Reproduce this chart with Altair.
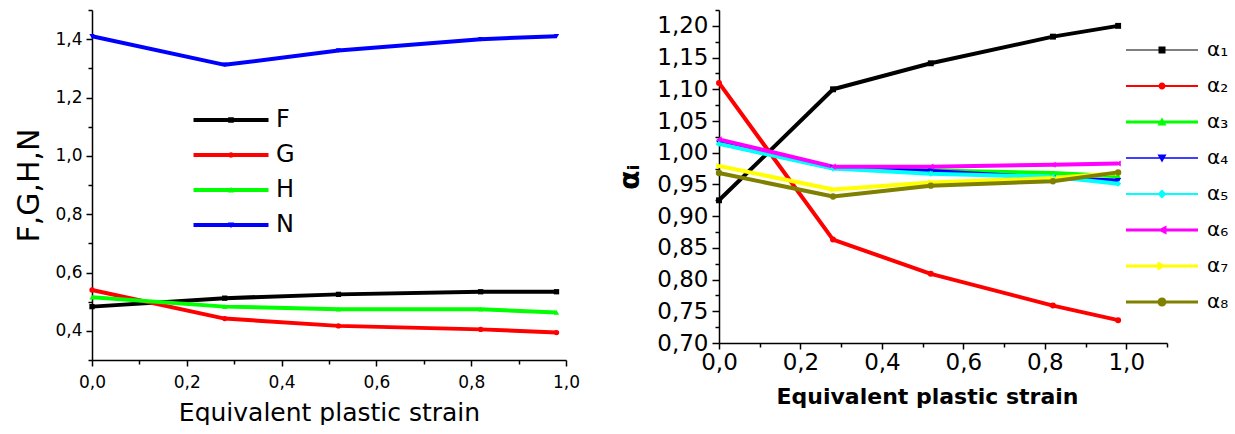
import altair as alt
import pandas as pd

# ---------------- data ----------------
strain = [0.0, 0.28, 0.52, 0.82, 0.98]

F = [0.483, 0.512, 0.525, 0.534, 0.534]
G = [0.540, 0.442, 0.417, 0.405, 0.394]
H = [0.515, 0.483, 0.474, 0.474, 0.463]
N = [1.410, 1.312, 1.361, 1.400, 1.410]
left_names = ["F", "G", "H", "N"]

a1 = [0.925, 1.100, 1.141, 1.183, 1.200]
a2 = [1.110, 0.863, 0.809, 0.759, 0.736]
a3 = [1.016, 0.977, 0.972, 0.968, 0.963]
a4 = [1.015, 0.976, 0.971, 0.960, 0.956]
a5 = [1.014, 0.975, 0.967, 0.962, 0.951]
a6 = [1.021, 0.978, 0.978, 0.981, 0.983]
a7 = [0.979, 0.942, 0.953, 0.960, 0.968]
a8 = [0.968, 0.931, 0.948, 0.955, 0.969]
right_names = ["α₁", "α₂", "α₃", "α₄", "α₅", "α₆", "α₇", "α₈"]

x_ticks_left = [0.0, 0.1, 0.2, 0.3, 0.4, 0.5, 0.6, 0.7, 0.8, 0.9, 1.0]
y_ticks_left = [0.3, 0.4, 0.5, 0.6, 0.7, 0.8, 0.9, 1.0, 1.1, 1.2, 1.3, 1.4, 1.5]
x_ticks_right = [0.0, 0.1, 0.2, 0.3, 0.4, 0.5, 0.6, 0.7, 0.8, 0.9, 1.0, 1.1]
y_ticks_right = [0.7, 0.725, 0.75, 0.775, 0.8, 0.825, 0.85, 0.875, 0.9, 0.925,
                 0.95, 0.975, 1.0, 1.025, 1.05, 1.075, 1.1, 1.125, 1.15, 1.175,
                 1.2, 1.225]


def long_table(names, series):
    rows = []
    for name, vals in zip(names, series):
        for xv, yv in zip(strain, vals):
            rows.append({"strain": xv, "value": yv, "series": name})
    return pd.DataFrame(rows)


df_left = long_table(left_names, [F, G, H, N])
df_right = long_table(right_names, [a1, a2, a3, a4, a5, a6, a7, a8])

# ---------------- styles ----------------
FONT = "DejaVu Sans"
left_colors = ["#000000", "#ff0000", "#00ff00", "#0000ff"]
left_widths = [4, 4, 4, 4]
left_shapes = ["square", "circle", "triangle-up", "triangle-down"]

right_colors = ["#000000", "#ff0000", "#00ff00", "#0000ff",
                "#00ffff", "#ff00ff", "#ffff00", "#808000"]
right_widths = [1.2, 2, 3, 1.5, 2, 3, 3, 3]
right_shapes = ["square", "circle", "triangle-up", "triangle-down",
                "diamond", "triangle-left", "triangle-right", "circle"]
right_sizes = [35, 40, 55, 55, 55, 55, 55, 70]


def f(v):
    return f"{v:.3f}".rstrip("0").rstrip(".")


def bar(L, t):
    return f"M{f(-L)},{f(-t)}H{f(L)}V{f(t)}H{f(-L)}Z"


def marker(kind, h):
    if kind == "square":
        return f"M{f(-h)},{f(-h)}H{f(h)}V{f(h)}H{f(-h)}Z"
    if kind == "circle":
        return f"M{f(-h)},0A{f(h)},{f(h)} 0 1,1 {f(h)},0A{f(h)},{f(h)} 0 1,1 {f(-h)},0Z"
    if kind == "triangle-up":
        return f"M0,{f(-h)}L{f(h)},{f(0.8*h)}L{f(-h)},{f(0.8*h)}Z"
    if kind == "triangle-down":
        return f"M{f(-h)},{f(-0.8*h)}L{f(h)},{f(-0.8*h)}L0,{f(h)}Z"
    if kind == "diamond":
        return f"M0,{f(-h)}L{f(h)},0L0,{f(h)}L{f(-h)},0Z"
    if kind == "triangle-left":
        return f"M{f(-h)},0L{f(h)},{f(-h)}L{f(h)},{f(h)}Z"
    if kind == "triangle-right":
        return f"M{f(h)},0L{f(-h)},{f(h)}L{f(-h)},{f(-h)}Z"
    return ""


U = 5.0  # legend symbol unit (px) for symbolSize=100
left_leg_paths = [bar(37.5 / U, w / 2 / U) + marker(k, h / U)
                  for w, k, h in zip(left_widths, left_shapes, [2.8, 2.8, 3.2, 3.2])]
right_leg_paths = [bar(36 / U, w / 2 / U) + marker(k, h / U)
                   for w, k, h in zip(right_widths, right_shapes,
                                      [3.5, 3.5, 4.5, 4.5, 4.5, 4.5, 4.5, 4.5])]


def major_test(mult):
    return f"abs(datum.value*{mult} - round(datum.value*{mult})) < 0.001"


def label_expr(mult, fmt):
    return (f"{major_test(mult)} ? replace(format(datum.value, '{fmt}'), '.', ',') : ''")


def axis(values, mult, fmt, title, label_size, hidden_size, title_size, title_weight,
         major, minor, **extra):
    return alt.Axis(
        values=values, title=title, grid=False,
        labelExpr=label_expr(mult, fmt), labelOverlap=False, labelFlush=False,
        labelFont=FONT, labelColor="#000000",
        labelFontSize={"condition": {"test": major_test(mult), "value": label_size},
                       "value": hidden_size},
        titleFont=FONT, titleFontSize=title_size, titleFontWeight=title_weight,
        titleColor="#000000",
        tickSize={"condition": {"test": major_test(mult), "value": major}, "value": minor},
        tickColor="#000000", tickWidth=1.5, domainColor="#000000", domainWidth=1.5,
        **extra,
    )


# ---------------- left panel ----------------
lx = alt.X("strain:Q", scale=alt.Scale(domain=[0, 1.0], nice=False, zero=False),
           axis=axis(x_ticks_left, 5, ".1f", "Equivalent plastic strain", 17, 1, 25,
                     "normal", 6, 4, labelPadding=8, titlePadding=10))
ly = alt.Y("value:Q", scale=alt.Scale(domain=[0.3, 1.5], nice=False, zero=False),
           axis=axis(y_ticks_left, 5, ".1f", "F,G,H,N", 17, 20, 30, "normal", 6, 4,
                     labelPadding=4, titlePadding=10))

left_lines = alt.Chart(df_left).mark_line(strokeJoin="round").encode(
    x=lx, y=ly,
    color=alt.Color("series:N", scale=alt.Scale(domain=left_names, range=left_colors),
                    legend=None),
    strokeWidth=alt.StrokeWidth("series:N",
                                scale=alt.Scale(domain=left_names, range=left_widths),
                                legend=None),
)
left_points = alt.Chart(df_left).mark_point(filled=True, opacity=1, size=28).encode(
    x=lx, y=ly,
    color=alt.Color("series:N", scale=alt.Scale(domain=left_names, range=left_colors),
                    legend=None),
    shape=alt.Shape("series:N", scale=alt.Scale(domain=left_names, range=left_shapes),
                    legend=None),
)
left_legend_def = alt.Legend(
    title=None, orient="none", legendX=127, legendY=98, padding=0,
    symbolSize=100, symbolStrokeWidth=0, symbolOpacity=1,
    labelFont=FONT, labelFontSize=24, labelColor="#000000", labelOffset=33,
    rowPadding=11,
)
left_legend = alt.Chart(df_left).transform_filter("false").mark_point(
    filled=True, opacity=1).encode(
    x=lx, y=ly,
    color=alt.Color("series:N", scale=alt.Scale(domain=left_names, range=left_colors),
                    legend=left_legend_def),
    shape=alt.Shape("series:N", scale=alt.Scale(domain=left_names, range=left_leg_paths),
                    legend=left_legend_def),
)
left = alt.layer(left_lines, left_points, left_legend).resolve_scale(
    color="independent", shape="independent").properties(width=474, height=350)

# ---------------- right panel ----------------
rx = alt.X("strain:Q", scale=alt.Scale(domain=[0, 1.1], nice=False, zero=False),
           axis=axis(x_ticks_right, 5, ".1f", "Equivalent plastic strain", 23, 1, 22,
                     "bold", 6, 4, labelPadding=2, titlePadding=12, titleX=208))
ry = alt.Y("value:Q", scale=alt.Scale(domain=[0.7, 1.225], nice=False, zero=False),
           axis=axis(y_ticks_right, 20, ".2f", "αᵢ", 23, 1, 28, "bold", 7, 4,
                     labelPadding=4, titlePadding=12))

right_lines = alt.Chart(df_right).mark_line(strokeJoin="round").encode(
    x=rx, y=ry,
    color=alt.Color("series:N", scale=alt.Scale(domain=right_names, range=right_colors),
                    legend=None),
    strokeWidth=alt.StrokeWidth("series:N",
                                scale=alt.Scale(domain=right_names, range=right_widths),
                                legend=None),
)
right_points = alt.Chart(df_right).mark_point(filled=True, opacity=1).encode(
    x=rx, y=ry,
    color=alt.Color("series:N", scale=alt.Scale(domain=right_names, range=right_colors),
                    legend=None),
    shape=alt.Shape("series:N", scale=alt.Scale(domain=right_names, range=right_shapes),
                    legend=None),
    size=alt.Size("series:N", scale=alt.Scale(domain=right_names, range=right_sizes),
                  legend=None),
)
right_legend_def = alt.Legend(
    title=None, orient="none", legendX=433, legendY=30, padding=0,
    symbolSize=100, symbolStrokeWidth=0, symbolOpacity=1,
    labelFont=FONT, labelFontSize=20, labelColor="#000000", labelOffset=35,
    rowPadding=16,
)
right_legend = alt.Chart(df_right).transform_filter("false").mark_point(
    filled=True, opacity=1).encode(
    x=rx, y=ry,
    color=alt.Color("series:N", scale=alt.Scale(domain=right_names, range=right_colors),
                    legend=right_legend_def),
    shape=alt.Shape("series:N", scale=alt.Scale(domain=right_names, range=right_leg_paths),
                    legend=right_legend_def),
)
right = alt.layer(right_lines, right_points, right_legend).resolve_scale(
    color="independent", shape="independent", size="independent").properties(
    width=448, height=333)

chart = alt.hconcat(left, right, spacing=36).properties(
    padding={"left": 14, "top": 0, "right": 0, "bottom": 0},
    background="#ffffff",
).configure_view(stroke=None)

chart.save("out.html", embed_options={"renderer": "svg", "actions": False})
